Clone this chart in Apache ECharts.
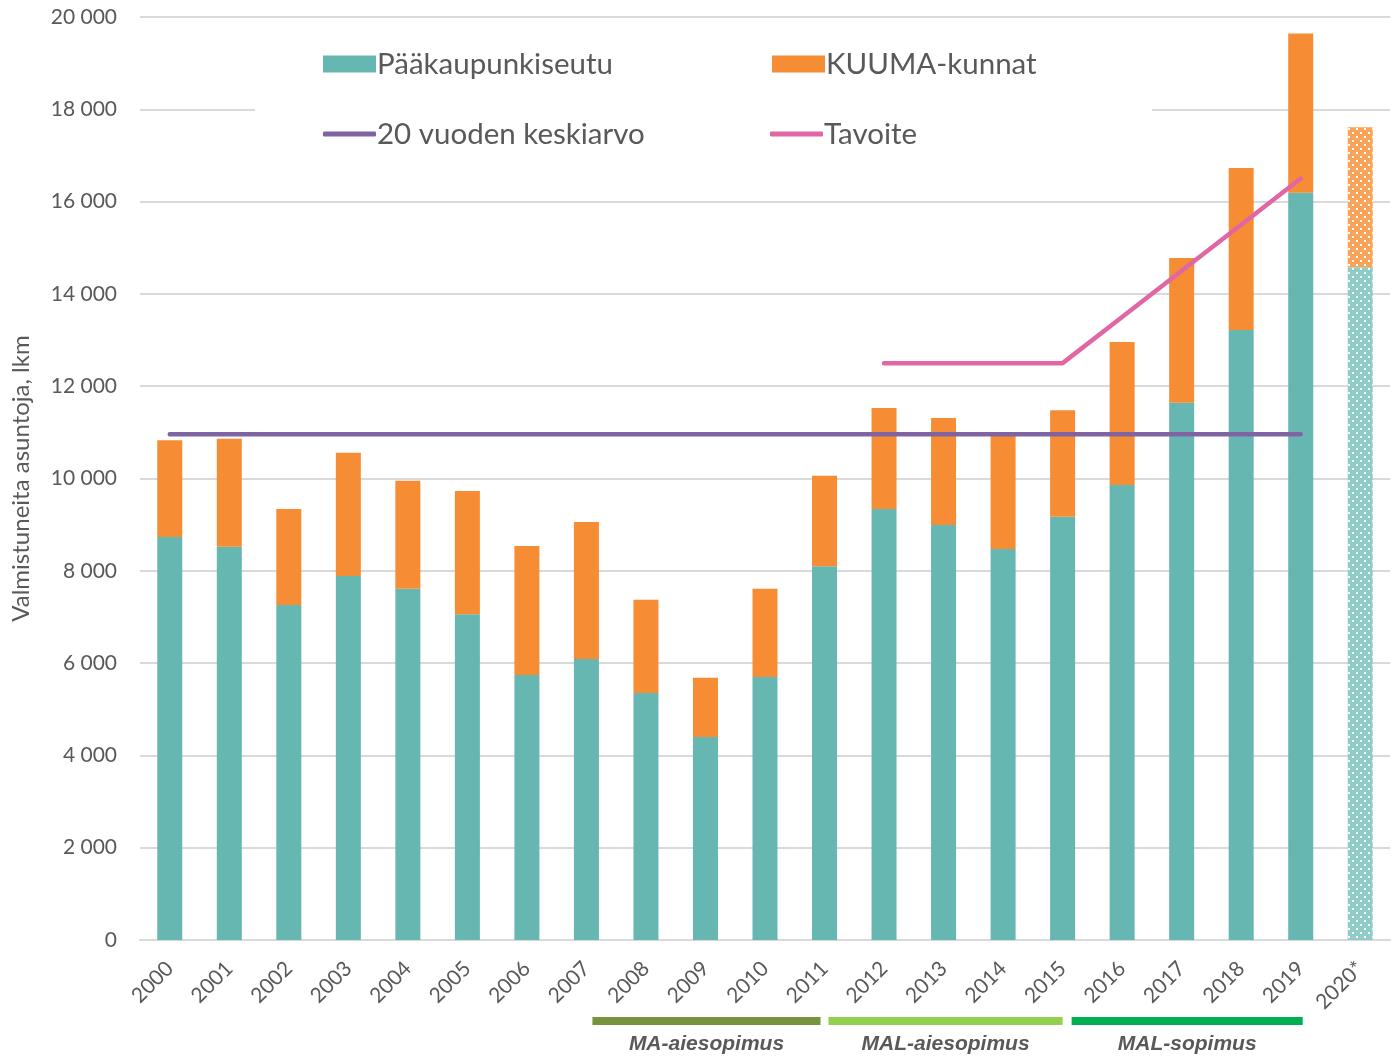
<!DOCTYPE html>
<html><head><meta charset="utf-8">
<script src="https://cdn.jsdelivr.net/npm/echarts@6/dist/echarts.min.js"></script>
<style>html,body{margin:0;padding:0;background:#fff}#c{width:1394px;height:1058px}</style>
</head><body><div id="c"></div>
<script>
var years = ['2000','2001','2002','2003','2004','2005','2006','2007','2008','2009','2010','2011','2012','2013','2014','2015','2016','2017','2018','2019','2020*'];
var paakaupunkiseutu = [8730,8520,7260,7890,7610,7060,5740,6090,5350,4400,5700,8100,9340,8990,8470,9170,9860,11640,13220,16190,14580];
var kuuma = [2100,2340,2080,2670,2340,2670,2800,2970,2020,1280,1910,1960,2190,2320,2450,2310,3100,3140,3510,3450,3030];
var keskiarvo = [10960,10960,10960,10960,10960,10960,10960,10960,10960,10960,10960,10960,10960,10960,10960,10960,10960,10960,10960,10960,null];
var tavoite = [null,null,null,null,null,null,null,null,null,null,null,null,12500,12500,12500,12500,13500,14500,15500,16500,null];
var periods = [
  {name:'MA-aiesopimus', from:'2007', to:'2011', color:'#77933c'},
  {name:'MAL-aiesopimus', from:'2011', to:'2015', color:'#92d050'},
  {name:'MAL-sopimus', from:'2015', to:'2019', color:'#00b050'}
];
var yTicks = {min:0, max:20000, interval:2000};

var FONT = 'Lato, "Open Sans", sans-serif';
var TXT = '#595959';
var decal = {symbol:'rect', symbolSize:1, color:'#ffffff', dashArrayX:[[2,6],[0,4,2,2]], dashArrayY:[2,2]};
function barData(arr, light){
  return arr.map(function(v,i){
    if (i === arr.length-1) return {value:v, itemStyle:{color:light, decal:decal}};
    return v;
  });
}
var chart = echarts.init(document.getElementById('c'));
function legendAt(name, left, top, icon){
  var o = {data:[name], left:left, top:top, itemWidth:53, itemHeight: icon==='rect'?17:5, itemGap:0,
    textStyle:{fontSize:29.5, color:TXT, fontFamily:FONT, padding:[0,0,0,-4]}, selectedMode:false, icon:icon};
  if (icon !== 'rect') o.itemStyle = {borderWidth:0};
  return o;
}
chart.setOption({
  animation:false,
  textStyle:{fontFamily:FONT},
  grid:{left:140, right:4, top:17, bottom:118, containLabel:false},
  legend:[
    legendAt('Pääkaupunkiseutu', 318, 44, 'rect'),
    legendAt('KUUMA-kunnat', 767, 44, 'rect'),
    legendAt('20 vuoden keskiarvo', 318, 114, 'roundRect'),
    legendAt('Tavoite', 765, 114, 'roundRect')
  ],
  xAxis:{type:'category', data:years,
    axisLine:{lineStyle:{color:'#d9d9d9', width:2}}, axisTick:{show:false},
    axisLabel:{rotate:45, fontSize:21, color:TXT, margin:25, fontFamily:FONT, interval:0}},
  yAxis:{type:'value', min:yTicks.min, max:yTicks.max, interval:yTicks.interval,
    name:'Valmistuneita asuntoja, lkm', nameLocation:'middle', nameGap:107, nameRotate:90,
    nameTextStyle:{fontSize:24, color:TXT, fontFamily:FONT},
    axisLine:{show:false}, axisTick:{show:false},
    splitLine:{lineStyle:{color:'#d9d9d9', width:2}},
    axisLabel:{fontSize:21, color:TXT, margin:23, fontFamily:FONT,
      formatter:function(v){return String(v).replace(/\B(?=(\d{3})+(?!\d))/g,' ');}}},
  series:[
    {name:'Pääkaupunkiseutu', type:'bar', stack:'a', barWidth:25, data:barData(paakaupunkiseutu,'#8fcbc7'),
      itemStyle:{color:'#66b6b2'}, z:2},
    {name:'KUUMA-kunnat', type:'bar', stack:'a', barWidth:25, data:barData(kuuma,'#f9a459'),
      itemStyle:{color:'#f68c33'}, z:2},
    {name:'20 vuoden keskiarvo', type:'line', data:keskiarvo, symbol:'none', z:5,
      lineStyle:{color:'#8064a2', width:4.5, cap:'round'}, itemStyle:{color:'#8064a2'}},
    {name:'Tavoite', type:'line', data:tavoite, symbol:'none', z:5,
      lineStyle:{color:'#e066a4', width:4.5, cap:'round', join:'round'}, itemStyle:{color:'#e066a4'}}
  ]
});
var g = [{type:'rect', z:1, shape:{x:255, y:28, width:897, height:160}, style:{fill:'#fff'}}];
periods.forEach(function(p, i){
  var a = chart.convertToPixel({xAxisIndex:0}, p.from);
  var b = chart.convertToPixel({xAxisIndex:0}, p.to);
  var x0 = a + (i===0?6:(i===1?4:9));
  var x1 = b - (i===0?4:(i===1?0:-2));
  g.push({type:'rect', shape:{x:x0, y:1017, width:x1-x0, height:8}, style:{fill:p.color}});
  g.push({type:'text', x:(x0+x1)/2, y:1044, style:{text:p.name, fill:TXT, font:'italic bold 21px "Liberation Sans", Arial, sans-serif', align:'center', verticalAlign:'middle'}});
});
chart.setOption({graphic:g});
</script></body></html>
